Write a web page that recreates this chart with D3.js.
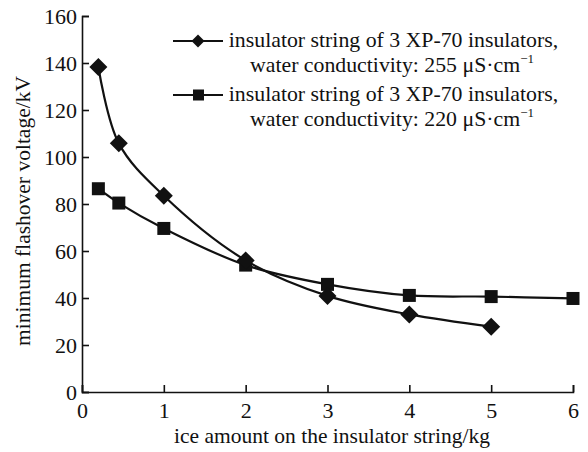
<!DOCTYPE html>
<html><head><meta charset="utf-8">
<script src="https://cdn.jsdelivr.net/npm/d3@7"></script>
<style>body{margin:0;background:#fff}svg{display:block}text{font-family:"Liberation Serif","Times New Roman",serif;fill:#111}</style>
</head><body><svg id="c" width="588" height="452"></svg>
<script>
const xTicks = [0,1,2,3,4,5,6];
const yTicks = [0,20,40,60,80,100,120,140,160];
const xDiamond = [0.2,0.45,1,2,3,4,5];
const yDiamond = [138.3,105.8,83.5,56,40.9,33,27.8];
const xSquare = [0.2,0.45,1,2,3,4,5,6];
const ySquare = [86.5,80.4,69.6,54,45.8,41.1,40.6,39.8];
const seriesNames = ["insulator string of 3 XP-70 insulators,","insulator string of 3 XP-70 insulators,"];
const seriesSub = ["water conductivity: 255 ","water conductivity: 220 "];
const xLabel = "ice amount on the insulator string/kg";
const yLabel = "minimum flashover voltage/kV";

const svg = d3.select("#c");
const x = d3.scaleLinear().domain([0,6]).range([82,573]);
const y = d3.scaleLinear().domain([0,160]).range([392,16]);
const ink = "#111";

const gx = svg.append("g").attr("transform","translate(0,392)")
  .call(d3.axisBottom(x).tickValues(xTicks).tickSize(-7).tickPadding(10).tickFormat(d3.format("d")));
const gy = svg.append("g").attr("transform","translate(82,0)")
  .call(d3.axisLeft(y).tickValues(yTicks).tickSize(-7).tickPadding(5).tickFormat(d3.format("d")));
[gx,gy].forEach(g=>{
  g.selectAll("path.domain").attr("stroke",ink).attr("stroke-width",1.6);
  g.selectAll(".tick line").attr("stroke",ink).attr("stroke-width",1.6);
  g.selectAll(".tick text").style("font-size","22px").attr("fill",ink);
});
gx.selectAll(".tick text").attr("dy","0.71em");
gy.selectAll(".tick text").attr("dy","0.35em");

svg.append("text").attr("x",332).attr("y",443).attr("text-anchor","middle").style("font-size","21.5px").text(xLabel);
svg.append("text").attr("transform","translate(30,211) rotate(-90)").attr("text-anchor","middle").style("font-size","21.5px").text(yLabel);

const line = d3.line().x(d=>x(d[0])).y(d=>y(d[1])).curve(d3.curveCatmullRom.alpha(0.5));
const dD = xDiamond.map((v,i)=>[v,yDiamond[i]]);
const dS = xSquare.map((v,i)=>[v,ySquare[i]]);
svg.append("path").datum(dS).attr("d",line).attr("fill","none").attr("stroke",ink).attr("stroke-width",2.2);
svg.append("path").datum(dD).attr("d",line).attr("fill","none").attr("stroke",ink).attr("stroke-width",2.2);

const diamond = (cx,cy,r)=>`M${cx},${cy-r}L${cx+r},${cy}L${cx},${cy+r}L${cx-r},${cy}Z`;
svg.selectAll(".sq").data(dS).enter().append("rect")
  .attr("x",d=>x(d[0])-6.5).attr("y",d=>y(d[1])-6.5).attr("width",13).attr("height",13).attr("fill",ink);
svg.selectAll(".dm").data(dD).enter().append("path")
  .attr("d",d=>diamond(x(d[0]),y(d[1]),9)).attr("fill",ink);

// legend
const legY = [41,95];
legY.forEach((ly,i)=>{
  svg.append("line").attr("x1",173).attr("x2",223).attr("y1",ly).attr("y2",ly).attr("stroke",ink).attr("stroke-width",2.2);
  if(i===0) svg.append("path").attr("d",diamond(198,ly,6.5)).attr("fill",ink);
  else svg.append("rect").attr("x",193).attr("y",ly-5.5).attr("width",11).attr("height",11).attr("fill",ink);
  svg.append("text").attr("x",393.5).attr("y",ly+6).attr("text-anchor","middle").style("font-size","21.8px").text(seriesNames[i]);
  const t = svg.append("text").attr("x",392).attr("y",ly+31).attr("text-anchor","middle").style("font-size","21.8px");
  t.append("tspan").text(seriesSub[i]+"\u03bcS\u00b7cm");
  t.append("tspan").attr("dy",-9).style("font-size","13px").text("\u22121");
});
</script></body></html>
